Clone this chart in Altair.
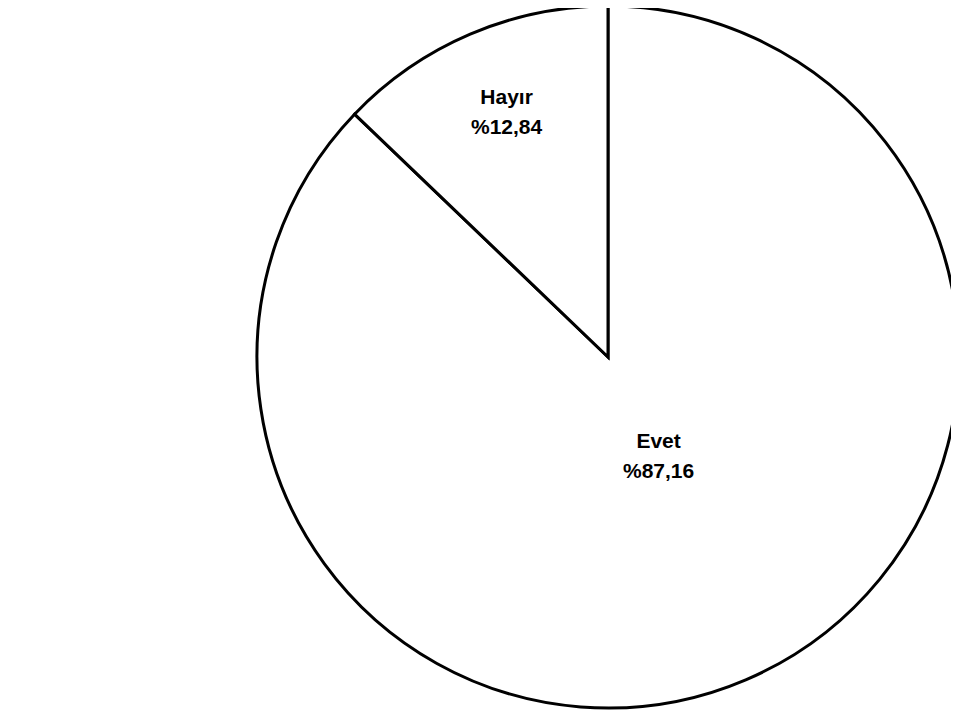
import altair as alt
import pandas as pd

categories = ["Evet", "Hayır"]
values = [87.16, 12.84]
labels = ["Evet\n%87,16", "Hayır\n%12,84"]

df = pd.DataFrame({"cat": categories, "value": values, "label": labels})

base = alt.Chart(df).encode(
    theta=alt.Theta("value:Q", stack=True),
    order=alt.Order("cat:N", sort="ascending"),
)

pie = base.mark_arc(stroke="#000000", strokeWidth=3, radius=351, fill="#ffffff").encode(
    x=alt.value(600), y=alt.value(349)
)

text_style = dict(font="Liberation Sans", fontWeight="bold", fontSize=21, lineBreak="\n",
                  lineHeight=30, align="center", baseline="middle", color="#000000")

txt_evet = base.mark_text(radius=111, dx=7, dy=-17, **text_style).encode(
    x=alt.value(600), y=alt.value(349),
    text=alt.condition(alt.datum.cat == "Evet", "label:N", alt.value("")),
)

txt_hayir = base.mark_text(radius=266, dx=3, dy=-14, **text_style).encode(
    x=alt.value(600), y=alt.value(349),
    text=alt.condition(alt.datum.cat == "Hayır", "label:N", alt.value("")),
)

chart = alt.layer(pie, txt_evet, txt_hayir).properties(
    width=943, height=704, autosize=alt.AutoSizeParams(type="none"), padding=0
).configure_view(strokeWidth=0)

chart.save("out.html", embed_options={"renderer": "svg", "actions": False})
